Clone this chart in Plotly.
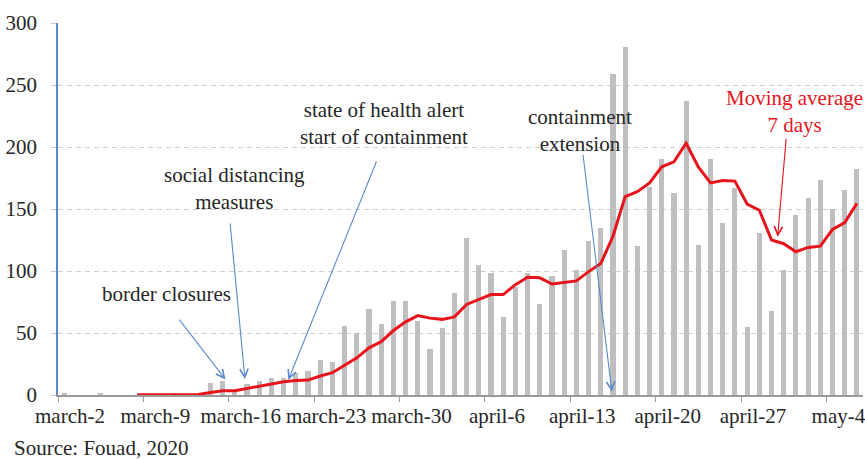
import pandas as pd
import plotly.graph_objects as go

# ---------------- data ----------------
start_date = "2020-03-02"
n_days = 66
dates = pd.date_range(start_date, periods=n_days, freq="D")

daily_cases = [1, 0, 0, 1, 0, 0, 0, 0, 0, 1,
               0, 0, 10, 11, 3, 9, 11, 14, 14, 18,
               19, 28, 27, 56, 50, 69, 57, 76, 76, 60,
               37, 54, 82, 127, 105, 98, 63, 87, 98, 73,
               96, 117, 101, 124, 135, 259, 281, 120, 168, 190,
               163, 237, 121, 190, 139, 167, 55, 131, 68, 101,
               145, 159, 173, 150, 165, 182]

moving_avg_7d = [None, None, None, None, None, None,
                 0.3, 0.3, 0.3, 0.4, 0.4, 0.4, 2, 3.5, 3.5, 5.4,
                 6.7, 8.6, 10.7, 11.6, 12, 15.3, 18, 24, 30, 38,
                 43, 52, 59, 64, 62, 61, 63, 73, 77, 81,
                 81, 89, 95, 94.5, 89.5, 91, 92, 99.5, 106, 128,
                 160, 164, 171, 184, 188, 203, 184, 171, 173, 172.5,
                 154, 149, 125, 122, 115.5, 119, 120, 133.5, 139, 154.5]

tick_labels = ["march-2", "march-9", "march-16", "march-23", "march-30",
               "april-6", "april-13", "april-20", "april-27", "may-4"]
y_ticks = [0, 50, 100, 150, 200, 250, 300]

# event annotations: text (day offset, value of block centre) and arrows (tail -> head)
event_texts = [
    ("border closures", 8.39, 81.5),
    ("social distancing<br>measures", 14.0, 166.5),
    ("state of health alert<br>start of containment", 26.23, 219),
    ("containment<br>extension", 42.27, 213.3),
]
ma_text = ("Moving average<br>7 days", 59.87, 228.5)
event_arrows = [
    (9.35, 62, 13.23, 12.5),
    (13.6, 139.5, 14.83, 12.9),
    (25.66, 189.5, 18.38, 12.1),
    (42.53, 195, 44.91, 2.7),
]
ma_arrow = (59.21, 207.8, 58.5, 127.7)

# ---------------- helpers ----------------
def day(d):
    return (dates[0] + pd.Timedelta(days=d)).strftime("%Y-%m-%d %H:%M:%S")

FONT = "Liberation Serif, Times New Roman, serif"
BLUE = "#5b8ac8"
RED = "#e8141c"
TXT = "#262626"
FS = 21

tick_vals = [day(7 * k - 0.5) for k in range(len(tick_labels))]

fig = go.Figure()
fig.add_trace(go.Bar(
    x=dates, y=daily_cases, marker_color="#bfbfbf", marker_line_width=0,
    width=0.42 * 86400000, name="cases", hoverinfo="x+y"))
fig.add_trace(go.Scatter(
    x=dates, y=moving_avg_7d, mode="lines", line=dict(color=RED, width=3),
    name="Moving average 7 days", connectgaps=False))

annotations = []
for text, d, v in event_texts:
    annotations.append(dict(x=day(d), y=v, xref="x", yref="y", text=text,
                            showarrow=False, xanchor="center", yanchor="middle",
                            align="center",
                            font=dict(family=FONT, size=FS, color=TXT)))
text, d, v = ma_text
annotations.append(dict(x=day(d), y=v, xref="x", yref="y", text=text,
                        showarrow=False, xanchor="center", yanchor="middle",
                        align="center",
                        font=dict(family=FONT, size=FS, color=RED)))
for (td, tv, hd, hv) in event_arrows:
    annotations.append(dict(x=day(hd), y=hv, ax=day(td), ay=tv, xref="x", yref="y",
                            axref="x", ayref="y", text="", showarrow=True,
                            arrowhead=5, arrowsize=1.5, arrowwidth=1.1, arrowcolor=BLUE))
td, tv, hd, hv = ma_arrow
annotations.append(dict(x=day(hd), y=hv, ax=day(td), ay=tv, xref="x", yref="y",
                        axref="x", ayref="y", text="", showarrow=True,
                        arrowhead=5, arrowsize=1.5, arrowwidth=1.1, arrowcolor=RED))
annotations.append(dict(x=-0.057, y=-0.1425, xref="paper", yref="paper",
                        text="Source: Fouad, 2020", showarrow=False,
                        xanchor="left", yanchor="middle",
                        font=dict(family=FONT, size=FS, color=TXT)))

fig.update_layout(
    width=865, height=459,
    margin=dict(l=58, r=2, t=23, b=64),
    paper_bgcolor="white", plot_bgcolor="white",
    showlegend=False, bargap=0,
    font=dict(family=FONT, size=FS, color=TXT),
    annotations=annotations,
)
fig.update_xaxes(
    type="date", automargin=False,
    range=[day(-0.5), day(n_days - 0.5)],
    tickmode="array", tickvals=tick_vals, ticktext=tick_labels,
    ticks="outside", ticklen=5, tickcolor="#9a9a9a", tickwidth=1,
    ticklabelshift=12, ticklabelstandoff=-4, ticklabeloverflow="allow",
    showline=True, linecolor="#9a9a9a", linewidth=1.5,
    showgrid=False, zeroline=False,
    tickfont=dict(family=FONT, size=FS, color=TXT),
)
fig.update_yaxes(
    range=[0, 300], tickmode="array", tickvals=y_ticks, automargin=False,
    ticks="outside", ticklen=5, tickcolor="#c8c8c8",
    ticklabelstandoff=10,
    showline=True, linecolor=BLUE, linewidth=1.5,
    showgrid=True, gridcolor="#cfcfcf", griddash="5px,4px", gridwidth=1,
    zeroline=False,
    tickfont=dict(family=FONT, size=FS, color=TXT),
)

fig.write_html("out.html",
               config={"displayModeBar": False},
               post_script="document.body.style.margin='0';"
                           "document.body.style.overflow='hidden';")
